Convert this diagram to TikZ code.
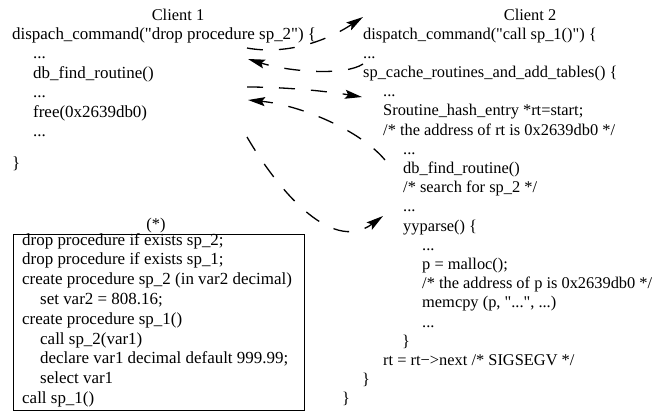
\documentclass[tikz,border=0pt]{standalone}
\usepackage{fontspec}
\setmainfont{Liberation Serif}[Ligatures=TeXOff]
\usetikzlibrary{arrows.meta}
\begin{document}
\begin{tikzpicture}[x=1bp,y=-1bp,
  txt/.style={anchor=base west,inner sep=0pt,font=\fontsize{16.4bp}{19.4bp}\selectfont},
  txtb/.style={anchor=base west,inner sep=0pt,font=\fontsize{16.95bp}{19.8bp}\selectfont},
  ttl/.style={anchor=base,inner sep=0pt,font=\fontsize{16.4bp}{19.4bp}\selectfont},
  link/.style={line width=1.3bp,dash pattern=on 16bp off 16bp,-{Stealth[length=17bp,width=9bp,inset=3bp]}}]
\useasboundingbox (0,0) rectangle (655,414);
% Client 1
\node[ttl] (t1) at (178,20) {Client 1};
\node[txtb] (a1) at (12,39.5) {dispach\_command("drop procedure sp\_2") \{};
\node[txtb] (a2) at (33,58.9) {...};
\node[txtb] (a3) at (33,78.3) {db\_find\_routine()};
\node[txtb] (a4) at (33,97.7) {...};
\node[txtb] (a5) at (33,117.1) {free(0x2639db0)};
\node[txtb] (a6) at (33,136.5) {...};
\node[txtb] (a7) at (12,168) {\}};
% Client 2
\node[ttl] (t2) at (530,20) {Client 2};
\node[txt] (b1) at (363,39) {dispatch\_command("call sp\_1()") \{};
\node[txt] (b2) at (363,58.2) {...};
\node[txt] (b3) at (363,77.4) {sp\_cache\_routines\_and\_add\_tables() \{};
\node[txt] (b4) at (383,96.6) {...};
\node[txt] (b5) at (383,115.8) {Sroutine\_hash\_entry *rt=start;};
\node[txt] (b6) at (383,135) {/* the address of rt is 0x2639db0 */};
\node[txt] (b7) at (403,154.2) {...};
\node[txt] (b8) at (403,173.4) {db\_find\_routine()};
\node[txt] (b9) at (403,192.6) {/* search for sp\_2 */};
\node[txt] (b10) at (403,211.8) {...};
\node[txt] (b11) at (403,231) {yyparse() \{};
\node[txt] (b12) at (422,250.2) {...};
\node[txt] (b13) at (422,269.4) {p = malloc();};
\node[txt] (b14) at (422,288.6) {/* the address of p is 0x2639db0 */};
\node[txt] (b15) at (422,307.8) {memcpy (p, "...", ...)};
\node[txt] (b16) at (422,327) {...};
\node[txt] (b17) at (402,346.2) {\}};
\node[txt] (b18) at (383,365.4) {rt = rt−>next /* SIGSEGV */};
\node[txt] (b19) at (362,384.6) {\}};
\node[txt] (b20) at (342,403.8) {\}};
% Box
\node[draw,line width=0.9bp,anchor=north west,inner sep=0pt,minimum width=291bp,minimum height=176bp] (box) at (13,234) {};
\node[ttl] (star) at (156,229) {(*)};
\node[txtb] (c1) at (22,245) {drop procedure if exists sp\_2;};
\node[txtb] (c2) at (22,264.8) {drop procedure if exists sp\_1;};
\node[txtb] (c3) at (22,284.6) {create procedure sp\_2 (in var2 decimal)};
\node[txtb] (c4) at (40,304.4) {set var2 = 808.16;};
\node[txtb] (c5) at (22,324.2) {create procedure sp\_1()};
\node[txtb] (c6) at (40,344) {call sp\_2(var1)};
\node[txtb] (c7) at (40,363.8) {declare var1 decimal default 999.99;};
\node[txtb] (c8) at (40,383.6) {select var1};
\node[txtb] (c9) at (22,403.4) {call sp\_1()};
% arrow endpoints
\coordinate (p1s) at (247,48);
\coordinate (p1e) at (363,17);
\coordinate (p2s) at (363,64);
\coordinate (p2e) at (248,59);
\coordinate (p3s) at (247,87);
\coordinate (p3e) at (362,97);
\coordinate (p4s) at (385,160);
\coordinate (p4e) at (248,100);
\coordinate (p5s) at (247,137);
\coordinate (p5e) at (383,216);
\draw[link] (p1s) .. controls (285,55) and (325,42) .. (p1e);
\draw[link] (p2s) .. controls (345,76) and (290,72) .. (p2e);
\draw[link] (p3s) .. controls (285,87) and (325,91) .. (p3e);
\draw[link] (p4s) .. controls (360,130) and (300,105) .. (p4e);
\draw[link] (p5s) .. controls (275,185) and (330,255) .. (p5e);
\end{tikzpicture}
\end{document}
